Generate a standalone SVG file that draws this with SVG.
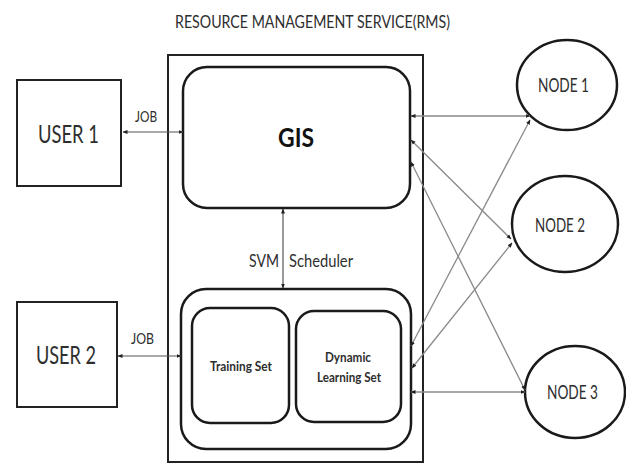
<svg xmlns="http://www.w3.org/2000/svg" width="626" height="464" viewBox="0 0 626 464">
  <defs>
    <marker id="ah" viewBox="0 0 10 10" refX="9" refY="5" markerWidth="5" markerHeight="5" orient="auto-start-reverse" markerUnits="userSpaceOnUse">
      <path d="M0,1 L10,5 L0,9 z" fill="#222"/>
    </marker>
    <style>
      .lbl { font-family: Lato, "Open Sans", sans-serif; fill: #2e2e2e; }
      .box { fill: #fff; stroke: #222; stroke-width: 2; }
      .rbox { fill: #fff; stroke: #1a1a1a; stroke-width: 2.5; }
      .node { fill: #fff; stroke: #1a1a1a; stroke-width: 2.5; }
      .wire { stroke: #8a8a8a; stroke-width: 1.3; fill: none; marker-start: url(#ah); marker-end: url(#ah); }
      .wire-dark { stroke: #555; stroke-width: 1.2; fill: none; marker-start: url(#ah); marker-end: url(#ah); }
    </style>
  </defs>

  <rect width="626" height="464" fill="#fff"/>

  <!-- title -->
  <text class="lbl" x="175" y="28" font-size="18" textLength="275" lengthAdjust="spacingAndGlyphs">RESOURCE MANAGEMENT SERVICE(RMS)</text>

  <!-- resource management service frame -->
  <g id="rms">
    <rect class="box" x="168" y="55" width="255" height="407"/>
  </g>

  <g id="gis">
    <rect class="rbox" x="183" y="67" width="227" height="141" rx="24" ry="24"/>
    <text x="278" y="147" font-family="Lato, 'Open Sans', sans-serif" font-weight="bold" font-size="26" fill="#111" textLength="36" lengthAdjust="spacingAndGlyphs">GIS</text>
  </g>

  <g id="svm">
    <rect class="rbox" x="181" y="289" width="230" height="160" rx="25" ry="25"/>
  </g>

  <g id="training-set">
    <rect class="rbox" x="192" y="308" width="97" height="115" rx="18" ry="18"/>
    <text class="lbl" x="210" y="371" font-size="13" font-weight="bold" textLength="62" lengthAdjust="spacingAndGlyphs">Training Set</text>
  </g>

  <g id="dynamic-learning-set">
    <rect class="rbox" x="296" y="311" width="105" height="111" rx="18" ry="18"/>
    <text class="lbl" x="325" y="362" font-size="13" font-weight="bold" textLength="46" lengthAdjust="spacingAndGlyphs">Dynamic</text>
    <text class="lbl" x="317" y="382" font-size="13" font-weight="bold" textLength="64" lengthAdjust="spacingAndGlyphs">Learning Set</text>
  </g>

  <g id="user1">
    <rect class="box" x="17" y="80" width="104" height="106"/>
    <text class="lbl" x="38" y="143" font-size="25" textLength="61" lengthAdjust="spacingAndGlyphs">USER 1</text>
  </g>

  <g id="user2">
    <rect class="box" x="17" y="302" width="100" height="105"/>
    <text class="lbl" x="36" y="364" font-size="25" textLength="60" lengthAdjust="spacingAndGlyphs">USER 2</text>
  </g>

  <g id="node1">
    <ellipse class="node" cx="567" cy="85" rx="50" ry="45"/>
    <text class="lbl" x="538" y="92" font-size="20" textLength="51" lengthAdjust="spacingAndGlyphs">NODE 1</text>
  </g>

  <g id="node2">
    <ellipse class="node" cx="565" cy="224" rx="53" ry="48"/>
    <text class="lbl" x="535" y="232" font-size="20" textLength="50" lengthAdjust="spacingAndGlyphs">NODE 2</text>
  </g>

  <g id="node3">
    <ellipse class="node" cx="575" cy="392" rx="50" ry="46"/>
    <text class="lbl" x="547" y="399" font-size="20" textLength="51" lengthAdjust="spacingAndGlyphs">NODE 3</text>
  </g>

  <g id="connectors">
    <!-- user jobs -->
    <line class="wire-dark" x1="123" y1="132" x2="183" y2="132"/>
    <line class="wire-dark" x1="118" y1="356" x2="181" y2="356"/>
    <!-- scheduler link between GIS and the learning sets -->
    <line class="wire-dark" x1="283" y1="209" x2="283" y2="288"/>
    <!-- GIS to nodes -->
    <line class="wire" x1="411" y1="116" x2="530" y2="116"/>
    <line class="wire" x1="411" y1="140" x2="511" y2="239"/>
    <line class="wire" x1="411" y1="162" x2="525" y2="390"/>
    <!-- learning sets to nodes -->
    <line class="wire" x1="411" y1="346" x2="530" y2="120"/>
    <line class="wire" x1="412" y1="368" x2="512" y2="243"/>
    <line class="wire" x1="411" y1="392" x2="525" y2="392"/>
  </g>

  <!-- connector labels -->
  <text class="lbl" x="135" y="122" font-size="16" textLength="22" lengthAdjust="spacingAndGlyphs">JOB</text>
  <text class="lbl" x="131" y="344" font-size="16" textLength="23" lengthAdjust="spacingAndGlyphs">JOB</text>
  <text class="lbl" x="249" y="267" font-size="17" textLength="30" lengthAdjust="spacingAndGlyphs">SVM</text>
  <text class="lbl" x="289" y="267" font-size="17" textLength="64" lengthAdjust="spacingAndGlyphs">Scheduler</text>
</svg>
